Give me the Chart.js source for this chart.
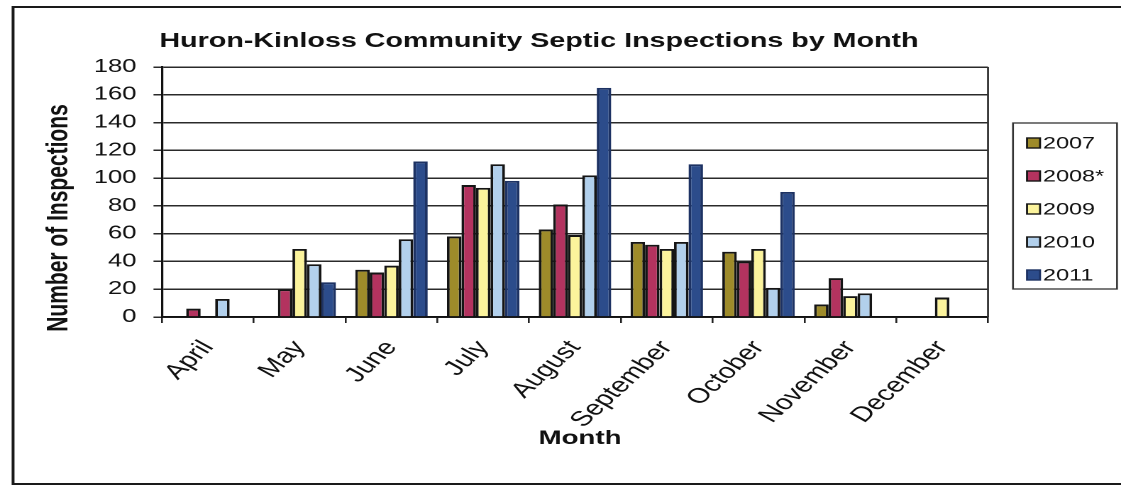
<!DOCTYPE html>
<html>
<head>
<meta charset="utf-8">
<title>Huron-Kinloss Community Septic Inspections by Month</title>
<script src="https://cdn.jsdelivr.net/npm/chart.js@4.4.1/dist/chart.umd.min.js"></script>
<style>
  html, body { margin: 0; padding: 0; background: #fff; }
</style>
</head>
<body>
<!-- the original picture is stretched sideways, so the canvas is drawn narrow and widened -->
<canvas id="chart" width="790" height="488" style="display:block;width:1121px;height:488px"></canvas>
<script>
// Data
const months = ['April', 'May', 'June', 'July', 'August', 'September', 'October', 'November', 'December'];
const years = ['2007', '2008*', '2009', '2010', '2011'];
const insp2007 = [null, null, 34, 58, 63, 54, 47, 9, null];
const insp2008 = [6, 20, 32, 95, 81, 52, 40, 28, null];
const insp2009 = [null, 49, 37, 93, 59, 49, 49, 15, 14];
const insp2010 = [13, 38, 56, 110, 102, 54, 21, 17, null];
const insp2011 = [null, 25, 112, 98, 165, 110, 90, null, null];
const yTicks = [0, 20, 40, 60, 80, 100, 120, 140, 160, 180];

const TITLE = 'Huron-Kinloss Community Septic Inspections by Month';
const X_TITLE = 'Month';
const Y_TITLE = 'Number of Inspections';

const fills = ['#9e8b2a', '#b3335f', '#fbf39c', '#b2d0ec', '#2c4c8b'];
const edges = ['#151515', '#151515', '#151515', '#151515', '#1d3263'];

const FONT = 'Arial, "Liberation Sans", sans-serif';
const SX = 1121 / 790; // horizontal stretch of the picture

Chart.defaults.font.family = FONT;
Chart.defaults.color = '#111';

// titles, frame and legend box drawn on top of the chart
const decorations = {
    id: 'decorations',
    afterDraw(chart) {
        const ctx = chart.ctx;
        const area = chart.chartArea;
        ctx.save();

        // outer frame
        ctx.strokeStyle = '#1a1a1a';
        ctx.lineWidth = 2;
        ctx.strokeRect(9.2, 7, 800, 477);

        // right edge of plot area
        ctx.strokeStyle = '#333';
        ctx.lineWidth = 1.4;
        ctx.beginPath();
        ctx.moveTo(area.right, area.top);
        ctx.lineTo(area.right, area.bottom);
        ctx.stroke();

        // chart title
        ctx.fillStyle = '#111';
        ctx.textAlign = 'center';
        ctx.textBaseline = 'alphabetic';
        ctx.font = 'bold 20.2px ' + FONT;
        ctx.fillText(TITLE, 539 / SX, 47);

        // x axis title
        ctx.font = 'bold 19.5px ' + FONT;
        ctx.fillText(X_TITLE, 580 / SX, 444);

        // y axis title
        ctx.save();
        ctx.translate(59 / SX, 218);
        ctx.rotate(-Math.PI / 2);
        ctx.textBaseline = 'middle';
        ctx.font = 'bold 21px ' + FONT;
        ctx.fillText(Y_TITLE, 0, 0);
        ctx.restore();

        // legend
        const boxL = 1013 / SX, boxR = 1117 / SX, boxT = 123, boxB = 289;
        ctx.strokeStyle = '#333';
        ctx.lineWidth = 1.3;
        ctx.strokeRect(boxL, boxT, boxR - boxL, boxB - boxT);
        ctx.textAlign = 'left';
        ctx.textBaseline = 'middle';
        ctx.font = '16.5px ' + FONT;
        chart.data.datasets.forEach((ds, i) => {
            const cy = 143 + i * 33;
            const sx = 1027 / SX;
            ctx.fillStyle = ds.backgroundColor;
            ctx.fillRect(sx, cy - 5, 9.2, 10);
            ctx.strokeStyle = ds.borderColor;
            ctx.lineWidth = 1.4;
            ctx.strokeRect(sx, cy - 5, 9.2, 10);
            ctx.fillStyle = '#111';
            ctx.fillText(ds.label, 1043 / SX, cy + 1);
        });

        ctx.restore();
    }
};

const seriesData = [insp2007, insp2008, insp2009, insp2010, insp2011];

new Chart(document.getElementById('chart'), {
    type: 'bar',
    data: {
        labels: months,
        datasets: years.map((y, i) => ({
            label: y,
            data: seriesData[i],
            backgroundColor: fills[i],
            borderColor: edges[i],
            borderWidth: 1.9,
            categoryPercentage: 0.79,
            barPercentage: 1.0
        }))
    },
    options: {
        responsive: false,
        animation: false,
        devicePixelRatio: 2,
        layout: { padding: { left: 0, top: 67, right: 790 - 988 / SX, bottom: 0 } },
        plugins: {
            legend: { display: false },
            title: { display: false },
            tooltip: { enabled: false }
        },
        scales: {
            x: {
                grid: { display: true, drawOnChartArea: false, drawTicks: true, tickLength: 6, offset: true, color: '#222', lineWidth: 1.3 },
                border: { display: true, color: '#111', width: 1.6 },
                ticks: { font: { size: 21 }, color: '#111', minRotation: 52, maxRotation: 52, padding: 13, autoSkip: false },
                afterFit: s => { s.height = 171; }
            },
            y: {
                min: 0,
                max: 180,
                afterBuildTicks: s => { s.ticks = yTicks.map(v => ({ value: v })); },
                grid: { color: '#2a2a2a', lineWidth: 1.5, tickLength: 6, drawTicks: true },
                border: { display: true, color: '#111', width: 1.6 },
                ticks: { font: { size: 18 }, color: '#111', padding: 12 },
                afterFit: s => { s.width = 162 / SX; }
            }
        }
    },
    plugins: [decorations]
});
</script>
</body>
</html>
